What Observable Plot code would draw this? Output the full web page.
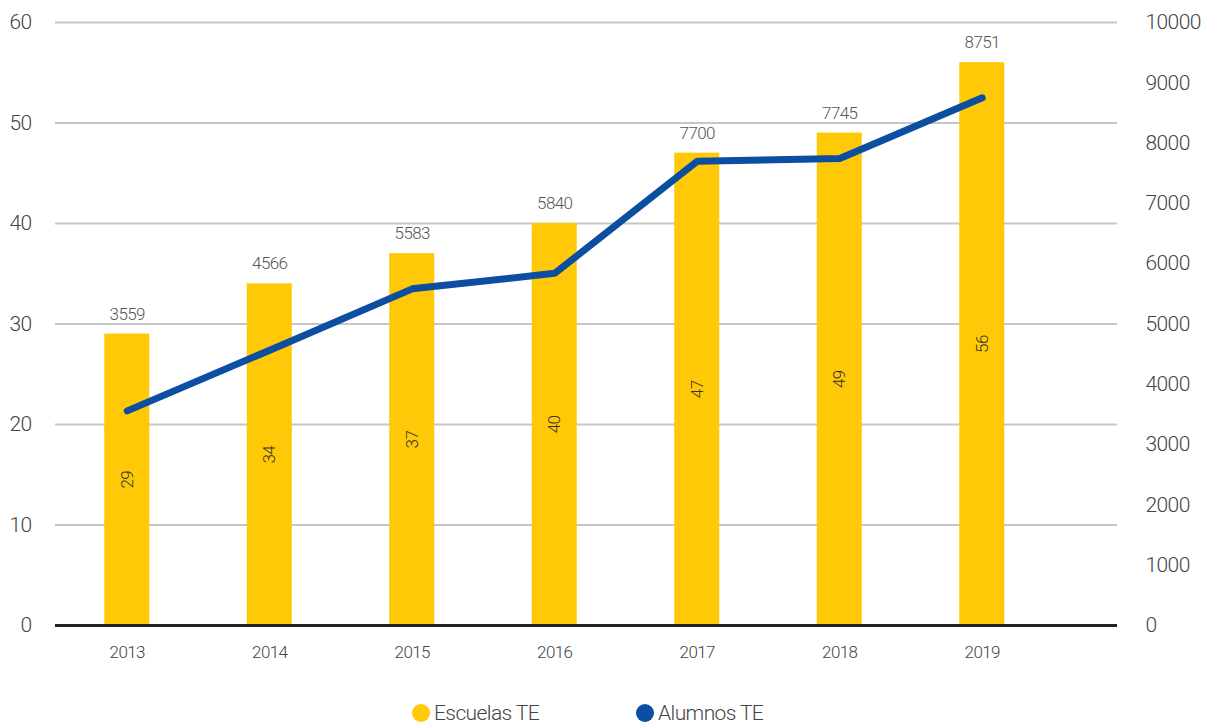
<!DOCTYPE html>
<html>
<head>
<meta charset="utf-8">
<script src="https://cdn.jsdelivr.net/npm/d3@7"></script>
<script src="https://cdn.jsdelivr.net/npm/@observablehq/plot@0.6"></script>
<style>
  html, body { margin: 0; padding: 0; background: #fff; }
  body { width: 1205px; height: 724px; overflow: hidden; font-family: Roboto, sans-serif; }
  #chart svg text { font-family: Roboto, sans-serif; font-weight: 300; letter-spacing: -0.6px; }
  #legend { display: flex; justify-content: flex-start; font-family: Roboto, sans-serif; font-weight: 300; font-size: 21px; color: #444; letter-spacing: -0.6px; margin-left: 412px; margin-top: 11px; }
  .item { display: flex; align-items: center; }
  .sw { width: 18px; height: 18px; border-radius: 50%; margin-right: 4px; }
</style>
</head>
<body>
<div id="chart"></div>
<div id="legend"></div>
<script>
const years = ["2013", "2014", "2015", "2016", "2017", "2018", "2019"];
const escuelas = [29, 34, 37, 40, 47, 49, 56];
const alumnos = [3559, 4566, 5583, 5840, 7700, 7745, 8751];
const leftTicks = [0, 10, 20, 30, 40, 50, 60];
const rightTicks = [0, 1000, 2000, 3000, 4000, 5000, 6000, 7000, 8000, 9000, 10000];
const seriesNames = ["Escuelas TE", "Alumnos TE"];
const colors = ["#FFC907", "#0B4EA2"];

const ratio = 60 / 10000;
const data = years.map((y, i) => ({year: y, escuelas: escuelas[i], alumnos: alumnos[i], alumnosScaled: alumnos[i] * ratio}));

const chart = Plot.plot({
  width: 1205,
  height: 690,
  marginTop: 22,
  marginLeft: 55,
  marginRight: 88,
  marginBottom: 65,
  x: {domain: years, range: [55.5, 1053], round: false, paddingInner: 0.684, paddingOuter: 0.342, label: null},
  y: {domain: [0, 60], label: null},
  marks: [
    Plot.ruleY(leftTicks.filter(d => d > 0), {stroke: "#c6c6c6", strokeWidth: 2}),
    Plot.barY(data, {x: "year", y: "escuelas", fill: colors[0]}),
    Plot.ruleY([0], {stroke: "#222", strokeWidth: 3}),
    Plot.line(data, {x: "year", y: "alumnosScaled", stroke: colors[1], strokeWidth: 7, strokeLinecap: "round", strokeLinejoin: "round"}),
    Plot.text(data, {x: "year", y: "escuelas", text: d => String(d.alumnos), dy: -20, fontSize: 17, fill: "#555"}),
    Plot.text(data, {x: "year", y: d => d.escuelas / 2, text: d => String(d.escuelas), rotate: -90, fontSize: 17, fill: "#333"}),
    Plot.axisX({tickSize: 0, tickPadding: 20, fontSize: 17, color: "#444"}),
    Plot.axisY({ticks: leftTicks, anchor: "left", tickSize: 0, tickPadding: 24, fontSize: 21, color: "#444", label: null}),
    Plot.axisY({ticks: rightTicks.map(v => v * ratio), tickFormat: v => String(Math.round(v / ratio)), anchor: "right", tickSize: 0, tickPadding: 28, fontSize: 21, color: "#444", label: null})
  ]
});
document.getElementById("chart").appendChild(chart);

const legend = document.getElementById("legend");
seriesNames.forEach((name, i) => {
  const item = document.createElement("div");
  item.className = "item";
  item.style.marginRight = i === 0 ? "97px" : "0";
  const sw = document.createElement("span");
  sw.className = "sw";
  sw.style.background = colors[i];
  const t = document.createElement("span");
  t.textContent = name;
  item.appendChild(sw);
  item.appendChild(t);
  legend.appendChild(item);
});
</script>
</body>
</html>
